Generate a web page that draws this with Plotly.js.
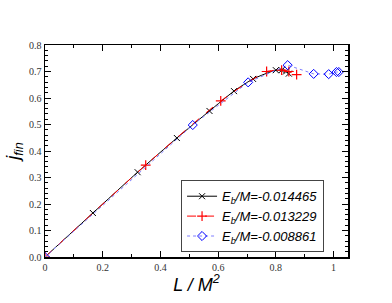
<!DOCTYPE html>
<html>
<head>
<meta charset="utf-8">
<script src="https://cdn.plot.ly/plotly-3.0.1.min.js"></script>
<style>html,body{margin:0;padding:0;background:#fff;}#chart{width:392px;height:303px;}</style>
</head>
<body>
<div id="chart"></div>
<script>
const seriesNames = ["<i>E<sub>b</sub>/M=-0.014465</i>", "<i>E<sub>b</sub>/M=-0.013229</i>", "<i>E<sub>b</sub>/M=-0.008861</i>"];
const blackX = [0, 0.166, 0.321, 0.457, 0.570, 0.655, 0.721, 0.800, 0.820, 0.835, 0.845];
const blackY = [0, 0.166, 0.320, 0.449, 0.551, 0.626, 0.672, 0.705, 0.705, 0.700, 0.692];
const redX = [0, 0.349, 0.609, 0.768, 0.820, 0.845, 0.872];
const redY = [0, 0.347, 0.589, 0.700, 0.705, 0.700, 0.688];
const blueX = [0, 0.512, 0.704, 0.841, 0.931, 0.983, 1.010, 1.018];
const blueY = [0, 0.498, 0.659, 0.724, 0.691, 0.690, 0.698, 0.698];

const traces = [
  {x: blackX, y: blackY, name: seriesNames[0], mode: "lines+markers",
   line: {color: "#000000", width: 1, shape: "spline", smoothing: 0.6},
   marker: {symbol: "x-thin", size: 6, line: {color: "#000000", width: 1}}},
  {x: redX, y: redY, name: seriesNames[1], mode: "lines+markers",
   line: {color: "#ff0000", width: 1, dash: "dash", shape: "spline", smoothing: 0.6},
   marker: {symbol: "cross-thin", size: 7, line: {color: "#ff0000", width: 1.2}}},
  {x: blueX, y: blueY, name: seriesNames[2], mode: "lines+markers",
   line: {color: "#7f7fff", width: 1, dash: "dot"},
   marker: {symbol: "diamond-open", size: 7, color: "#0000ff", line: {color: "#0000ff", width: 1}}}
];

const axisCommon = {
  showline: true, linecolor: "#000", linewidth: 1.5, mirror: "allticks",
  ticks: "inside", ticklen: 6, tickwidth: 1, tickcolor: "#000",
  showgrid: false, zeroline: false,
  tickfont: {family: "Liberation Serif", size: 10, color: "#333"}
};

const layout = {
  width: 392, height: 303,
  margin: {l: 45, r: 44, t: 45, b: 46},
  paper_bgcolor: "#fff", plot_bgcolor: "#fff",
  showlegend: true,
  xaxis: Object.assign({}, axisCommon, {
    range: [0, 1.05], dtick: 0.2, tick0: 0,
    minor: {dtick: 0.1, ticks: "inside", ticklen: 3, tickcolor: "#000"},
    title: {text: "<i>L / M<sup>2</sup></i>", font: {family: "Liberation Sans", size: 18, color: "#000"}, standoff: 4}
  }),
  yaxis: Object.assign({}, axisCommon, {
    range: [0, 0.8], dtick: 0.1, tick0: 0, tickformat: ".1f",
    minor: {dtick: 0.02, ticks: "inside", ticklen: 3, tickcolor: "#000"},
    title: {text: "<i>j<sub>fin</sub></i>", font: {family: "Liberation Sans", size: 18, color: "#000"}, standoff: 4}
  }),
  legend: {
    x: 0.449, y: 0.362, xanchor: "left", yanchor: "top",
    bgcolor: "#fff", bordercolor: "#444", borderwidth: 1,
    font: {family: "Liberation Sans", size: 13, color: "#000"},
    tracegroupgap: 0, itemwidth: 30
  }
};

Plotly.newPlot("chart", traces, layout, {staticPlot: true, displayModeBar: false});
</script>
</body>
</html>
